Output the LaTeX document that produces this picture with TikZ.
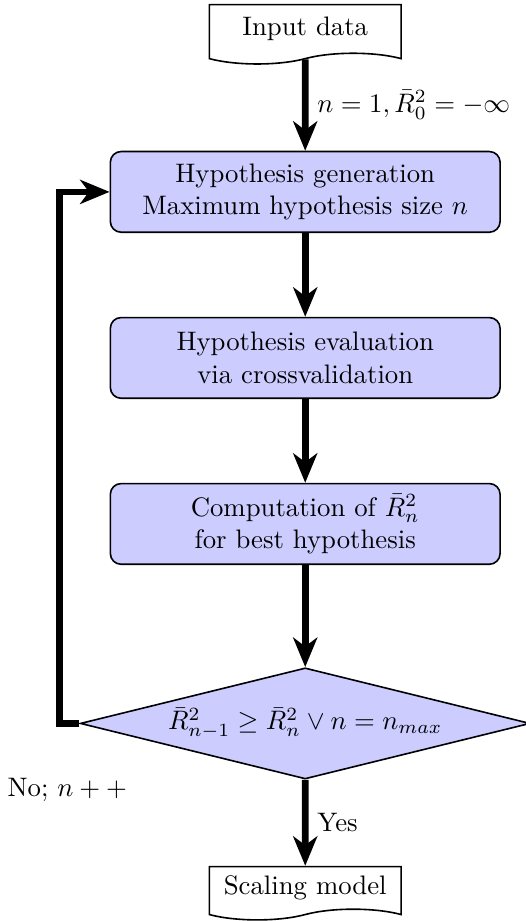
\documentclass[tikz,border=0pt]{standalone}
\usepackage{amsmath}
\usepackage{amssymb}
\usetikzlibrary{arrows.meta,positioning,shapes.geometric,shapes.symbols}

\begin{document}
\begin{tikzpicture}[
  node distance=1.1cm,
  io/.style={tape, tape bend top=none, tape bend height=4pt, draw, semithick, fill=white, minimum width=2.52cm, minimum height=0.78cm, align=center},
  block/.style={rectangle, rounded corners, draw, semithick, fill=blue!20, minimum width=5.12cm, minimum height=1.06cm, align=center},
  decision/.style={diamond, draw, semithick, fill=blue!20, aspect=4, inner sep=0pt, minimum width=5.91cm, minimum height=1.46cm},
  arrow/.style={-{Stealth[length=11pt,width=9pt,inset=3.3pt]}, line width=2.5pt}
]
\useasboundingbox (-4.01,0) rectangle (2.89,-12.10);
\node[io, anchor=north] (input) at (0,-0.05) {Input data};
\node[block, below=1.27cm of input] (generate) {Hypothesis generation\\Maximum hypothesis size $n$};
\node[block, below=of generate] (evaluate) {Hypothesis evaluation\\via crossvalidation};
\node[block, below=of evaluate] (compute) {Computation of $\bar{R}_n^2$\\for best hypothesis};
\node[decision, below=1.34cm of compute] (check) {$\bar{R}_{n-1}^2 \geq \bar{R}_n^2 \vee n = n_{max}$};
\node[io, minimum height=0.7cm, below=1.13cm of check] (output) {Scaling model};
\draw[arrow] (input) -- node[right] {$n=1, \bar{R}_0^2=-\infty$} (generate);
\draw[arrow] (generate) -- (evaluate);
\draw[arrow] (evaluate) -- (compute);
\draw[arrow] (compute) -- (check);
\draw[arrow] (check.west) -- ++(-0.26,0) coordinate (loop) |- (generate.west);
\node[below=0.6cm of loop, xshift=0.1cm] (no) {No; $n++$};
\draw[arrow] (check) -- node[right] {Yes} (output);
\end{tikzpicture}
\end{document}
